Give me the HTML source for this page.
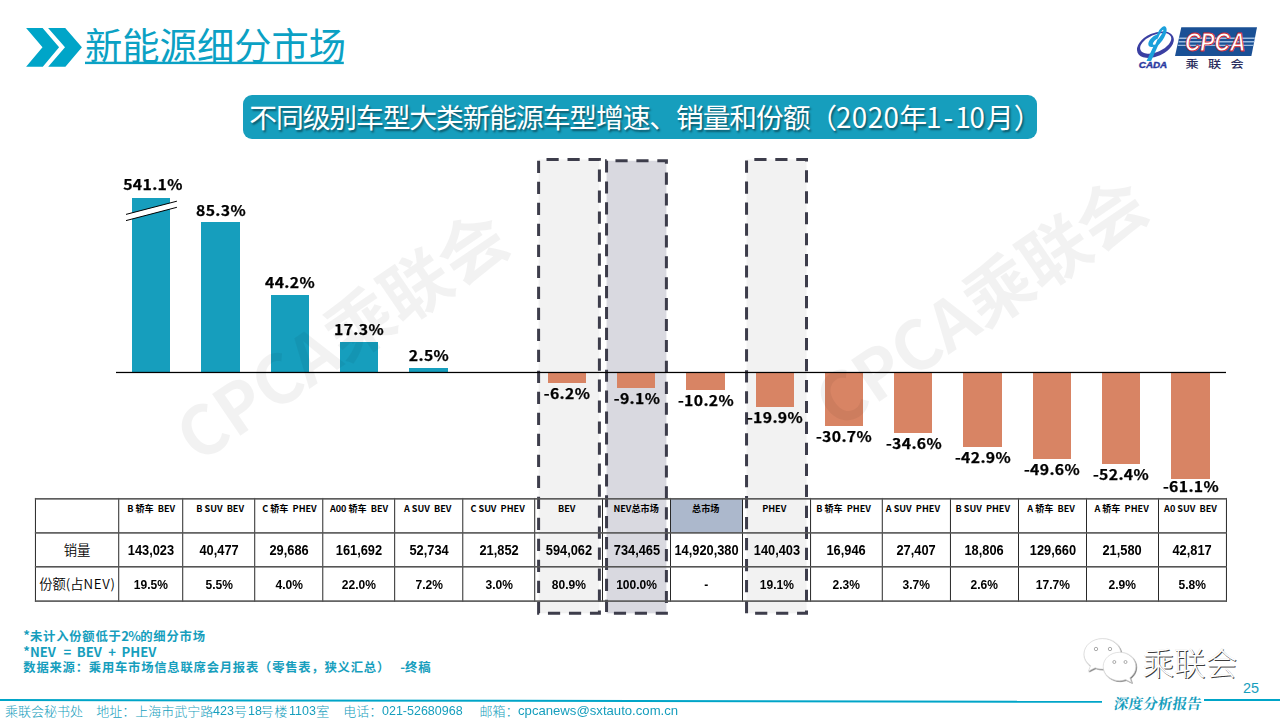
<!DOCTYPE html>
<html lang="zh-CN">
<head>
<meta charset="utf-8">
<title>新能源细分市场</title>
<style>
html,body{margin:0;padding:0;background:#fff;}
body{width:1280px;height:720px;overflow:hidden;position:relative;font-family:"Liberation Sans","Noto Sans CJK SC",sans-serif;}
#slide{position:absolute;left:0;top:0;width:1280px;height:720px;overflow:hidden;background:#fff;}
.abs{position:absolute;}
.yh{font-family:"Noto Sans CJK SC","Liberation Sans",sans-serif;}
.title{left:85px;top:17.3px;font-size:37.3px;line-height:54px;color:#0BA1C4;white-space:nowrap;font-weight:400;}
.sub{left:243px;top:95px;width:793.6px;height:43.7px;border-radius:9px;background:#169EBD;}
.subt{left:249.3px;top:95px;height:43.7px;line-height:43.7px;text-align:left;color:#fff;font-size:27.8px;letter-spacing:-1.13px;white-space:nowrap;text-shadow:1.5px 1.5px 2px rgba(0,0,0,.45);}
.bar{position:absolute;}
.lab{position:absolute;font-weight:700;color:#000;white-space:nowrap;text-align:center;line-height:1;letter-spacing:.3px;-webkit-text-stroke:.25px #000;}
.wm{position:absolute;white-space:nowrap;font-weight:700;color:rgba(0,0,0,.052);line-height:1;transform-origin:50% 50%;}
.cell{position:absolute;text-align:center;white-space:nowrap;color:#000;}
.hd{font-weight:700;white-space:pre;}
.num{font-family:"Liberation Sans",sans-serif;font-weight:700;}
.num span{display:inline-block;transform-origin:50% 50%;}
.rl{font-weight:350;font-size:13.33px;}
.fn{left:23.3px;color:#169EBD;font-weight:700;font-size:12.3px;letter-spacing:.8px;line-height:16px;white-space:pre;}
.la{font-size:13.1px;letter-spacing:0;}
.foot{left:5px;top:702.5px;width:700px;height:16px;color:#169EBD;line-height:16px;white-space:pre;}
.fc{position:absolute;top:0;font-family:"Noto Sans CJK SC",sans-serif;font-weight:300;font-size:13.0px;}
.fl{position:absolute;top:0;font-family:"Liberation Sans",sans-serif;font-size:13.3px;transform-origin:0 50%;}
</style>
</head>
<body>
<div id="slide">
<svg class="abs" style="left:0;top:0" width="1280" height="720" viewBox="0 0 1280 720"><rect x="538.60" y="159.50" width="60.80" height="453.85" fill="#F2F2F2" stroke="#3D3D4B" stroke-width="3" stroke-dasharray="12.2 8.8" stroke-dashoffset="13.1"/><rect x="606.55" y="160.70" width="59.85" height="452.65" fill="#D9D9E0" stroke="#3D3D4B" stroke-width="3" stroke-dasharray="12.15 8.77" stroke-dashoffset="12.0"/><rect x="746.55" y="159.50" width="59.95" height="453.85" fill="#F2F2F2" stroke="#3D3D4B" stroke-width="3" stroke-dasharray="12.2 8.77" stroke-dashoffset="13.2"/></svg>
<svg class="abs" style="left:0;top:0" width="120" height="90" viewBox="0 0 120 90"><polygon points="26.1,27.9 42.6,27.9 59.1,47.35 42.8,66.8 26.1,66.8 42.5,47.35" fill="#00A5C8"/><polygon points="48.1,27.9 65.2,27.9 81.9,47.35 65.4,66.8 48.2,66.8 65.0,47.35" fill="#00A5C8"/></svg>
<div class="abs yh title">新能源细分市场</div>
<svg class="abs" style="left:80px;top:58px" width="270" height="8" viewBox="80 58 270 8"><rect x="85" y="61.7" width="258.8" height="2.4" fill="#0BA1C4"/></svg>
<div class="abs sub"></div>
<div class="abs yh subt">不同级别车型大类新能源车型增速、销量和份额（<span style="letter-spacing:.4px">2020</span>年1<span style="margin:0 3.2px 0 3.2px">-</span>1<span style="margin-right:2.1px">0</span>月<span style="margin-left:1.1px">）</span></div>
<div class="bar" style="left:132.10px;top:198.00px;width:38.30px;height:174.00px;background:#169EBD"></div><div class="lab yh" style="left:102.65px;top:177.08px;width:100px;font-size:14.50px;transform:scaleX(1.09)">541.1%</div>
<div class="bar" style="left:201.38px;top:222.00px;width:38.30px;height:150.00px;background:#169EBD"></div><div class="lab yh" style="left:170.83px;top:202.78px;width:100px;font-size:14.50px;transform:scaleX(1.09)">85.3%</div>
<div class="bar" style="left:270.66px;top:295.00px;width:38.30px;height:77.00px;background:#169EBD"></div><div class="lab yh" style="left:240.11px;top:275.28px;width:100px;font-size:14.50px;transform:scaleX(1.09)">44.2%</div>
<div class="bar" style="left:339.94px;top:342.00px;width:38.30px;height:30.00px;background:#169EBD"></div><div class="lab yh" style="left:309.39px;top:322.28px;width:100px;font-size:14.50px;transform:scaleX(1.09)">17.3%</div>
<div class="bar" style="left:409.22px;top:368.00px;width:38.30px;height:4.00px;background:#169EBD"></div><div class="lab yh" style="left:378.67px;top:348.48px;width:100px;font-size:14.50px;transform:scaleX(1.09)">2.5%</div>
<div class="bar" style="left:547.78px;top:372.00px;width:38.30px;height:11.00px;background:#D88464"></div><div class="lab yh" style="left:517.23px;top:385.78px;width:100px;font-size:14.50px;transform:scaleX(1.09)">-6.2%</div>
<div class="bar" style="left:617.06px;top:372.00px;width:38.30px;height:15.50px;background:#D88464"></div><div class="lab yh" style="left:586.51px;top:391.48px;width:100px;font-size:14.50px;transform:scaleX(1.09)">-9.1%</div>
<div class="bar" style="left:686.34px;top:372.00px;width:38.30px;height:17.50px;background:#D88464"></div><div class="lab yh" style="left:655.79px;top:393.48px;width:100px;font-size:14.50px;transform:scaleX(1.09)">-10.2%</div>
<div class="bar" style="left:755.62px;top:372.00px;width:38.30px;height:34.80px;background:#D88464"></div><div class="lab yh" style="left:725.07px;top:410.28px;width:100px;font-size:14.50px;transform:scaleX(1.09)">-19.9%</div>
<div class="bar" style="left:824.90px;top:372.00px;width:38.30px;height:53.60px;background:#D88464"></div><div class="lab yh" style="left:794.35px;top:428.98px;width:100px;font-size:14.50px;transform:scaleX(1.09)">-30.7%</div>
<div class="bar" style="left:894.18px;top:372.00px;width:38.30px;height:60.50px;background:#D88464"></div><div class="lab yh" style="left:863.63px;top:435.78px;width:100px;font-size:14.50px;transform:scaleX(1.09)">-34.6%</div>
<div class="bar" style="left:963.46px;top:372.00px;width:38.30px;height:74.80px;background:#D88464"></div><div class="lab yh" style="left:932.91px;top:449.78px;width:100px;font-size:14.50px;transform:scaleX(1.09)">-42.9%</div>
<div class="bar" style="left:1032.74px;top:372.00px;width:38.30px;height:86.80px;background:#D88464"></div><div class="lab yh" style="left:1002.19px;top:462.08px;width:100px;font-size:14.50px;transform:scaleX(1.09)">-49.6%</div>
<div class="bar" style="left:1102.02px;top:372.00px;width:38.30px;height:91.80px;background:#D88464"></div><div class="lab yh" style="left:1071.47px;top:467.08px;width:100px;font-size:14.50px;transform:scaleX(1.09)">-52.4%</div>
<div class="bar" style="left:1171.30px;top:372.00px;width:38.30px;height:106.80px;background:#D88464"></div><div class="lab yh" style="left:1140.75px;top:478.98px;width:100px;font-size:14.50px;transform:scaleX(1.09)">-61.1%</div>
<svg class="abs" style="left:110px;top:368px" width="1120" height="8" viewBox="110 368 1120 8"><rect x="116" y="371.85" width="1110" height="1.25" fill="#000"/></svg>
<svg class="abs" style="left:110px;top:190px" width="90" height="40" viewBox="110 190 90 40"><polygon points="126,214.4 176.9,201.2 176.9,207.3 126,220.6" fill="#fff"/><line x1="126" y1="214.4" x2="176.9" y2="201.2" stroke="#000" stroke-width="1"/><line x1="126" y1="220.6" x2="176.9" y2="207.3" stroke="#000" stroke-width="1"/></svg>
<div class="wm yh" style="left:40.0px;top:293.0px;width:600px;height:80px;text-align:center;font-size:68px;line-height:80px;transform:rotate(-34.2deg)">CPCA乘联会</div>
<div class="wm yh" style="left:679.4px;top:258.5px;width:600px;height:80px;text-align:center;font-size:68px;line-height:80px;transform:rotate(-34.2deg)">CPCA乘联会</div>
<div class="abs" style="left:670.50px;top:498.85px;width:72.00px;height:34.05px;background:#ACB8CC"></div>
<svg class="abs" style="left:0;top:490px" width="1280" height="120" viewBox="0 490 1280 120"><rect x="34.95" y="497.95" width="0.9" height="103.95" fill="#111"/><rect x="118.30" y="497.95" width="0.9" height="103.95" fill="#111"/><rect x="182.30" y="497.95" width="0.9" height="103.95" fill="#111"/><rect x="254.30" y="497.95" width="0.9" height="103.95" fill="#111"/><rect x="322.35" y="497.95" width="0.9" height="103.95" fill="#111"/><rect x="394.25" y="497.95" width="0.9" height="103.95" fill="#111"/><rect x="462.35" y="497.95" width="0.9" height="103.95" fill="#111"/><rect x="534.30" y="497.95" width="0.9" height="103.95" fill="#111"/><rect x="602.05" y="497.95" width="0.9" height="103.95" fill="#111"/><rect x="670.05" y="497.95" width="0.9" height="103.95" fill="#111"/><rect x="742.05" y="497.95" width="0.9" height="103.95" fill="#111"/><rect x="810.15" y="497.95" width="0.9" height="103.95" fill="#111"/><rect x="881.80" y="497.95" width="0.9" height="103.95" fill="#111"/><rect x="949.95" y="497.95" width="0.9" height="103.95" fill="#111"/><rect x="1018.05" y="497.95" width="0.9" height="103.95" fill="#111"/><rect x="1086.05" y="497.95" width="0.9" height="103.95" fill="#111"/><rect x="1158.05" y="497.95" width="0.9" height="103.95" fill="#111"/><rect x="1225.95" y="497.95" width="0.9" height="103.95" fill="#111"/><rect x="34.90" y="498.05" width="1192.00" height="1.6" fill="#555"/><rect x="34.90" y="532.10" width="1192.00" height="1.6" fill="#555"/><rect x="34.90" y="566.00" width="1192.00" height="1.6" fill="#555"/><rect x="34.90" y="600.30" width="1192.00" height="1.6" fill="#555"/></svg>
<div class="cell rl yh" style="left:35.40px;top:540.40px;width:83.35px;line-height:20px">销量</div><div class="cell rl yh" style="left:35.40px;top:574.30px;width:83.35px;line-height:20px">份额(占<span style="letter-spacing:.7px">NEV</span>)</div>
<div class="cell hd yh" style="left:101.25px;top:501.35px;width:100px;font-size:9.10px;line-height:14px">B 轿车  BEV</div><div class="cell num" style="left:108.75px;top:540.50px;width:84.00px;font-size:13.80px;line-height:20px"><span style="transform:scaleX(0.930)">143,023</span></div><div class="cell num" style="left:108.75px;top:574.70px;width:84.00px;font-size:13.30px;line-height:20px"><span style="transform:scaleX(0.905)">19.5%</span></div>
<div class="cell hd yh" style="left:170.18px;top:501.35px;width:100px;font-size:9.10px;line-height:14px">B SUV  BEV</div><div class="cell num" style="left:172.75px;top:540.50px;width:92.00px;font-size:13.80px;line-height:20px"><span style="transform:scaleX(0.930)">40,477</span></div><div class="cell num" style="left:172.75px;top:574.70px;width:92.00px;font-size:13.30px;line-height:20px"><span style="transform:scaleX(0.905)">5.5%</span></div>
<div class="cell hd yh" style="left:239.50px;top:501.35px;width:100px;font-size:9.10px;line-height:14px">C 轿车  PHEV</div><div class="cell num" style="left:244.75px;top:540.50px;width:88.05px;font-size:13.80px;line-height:20px"><span style="transform:scaleX(0.930)">29,686</span></div><div class="cell num" style="left:244.75px;top:574.70px;width:88.05px;font-size:13.30px;line-height:20px"><span style="transform:scaleX(0.905)">4.0%</span></div>
<div class="cell hd yh" style="left:309.07px;top:501.35px;width:100px;font-size:9.10px;line-height:14px">A00 轿车  BEV</div><div class="cell num" style="left:312.80px;top:540.50px;width:91.90px;font-size:13.80px;line-height:20px"><span style="transform:scaleX(0.930)">161,692</span></div><div class="cell num" style="left:312.80px;top:574.70px;width:91.90px;font-size:13.30px;line-height:20px"><span style="transform:scaleX(0.905)">22.0%</span></div>
<div class="cell hd yh" style="left:377.70px;top:501.35px;width:100px;font-size:9.10px;line-height:14px">A SUV  BEV</div><div class="cell num" style="left:384.70px;top:540.50px;width:88.10px;font-size:13.80px;line-height:20px"><span style="transform:scaleX(0.930)">52,734</span></div><div class="cell num" style="left:384.70px;top:574.70px;width:88.10px;font-size:13.30px;line-height:20px"><span style="transform:scaleX(0.905)">7.2%</span></div>
<div class="cell hd yh" style="left:447.62px;top:501.35px;width:100px;font-size:9.10px;line-height:14px">C SUV  PHEV</div><div class="cell num" style="left:452.80px;top:540.50px;width:91.95px;font-size:13.80px;line-height:20px"><span style="transform:scaleX(0.930)">21,852</span></div><div class="cell num" style="left:452.80px;top:574.70px;width:91.95px;font-size:13.30px;line-height:20px"><span style="transform:scaleX(0.905)">3.0%</span></div>
<div class="cell hd yh" style="left:516.75px;top:501.35px;width:100px;font-size:9.10px;line-height:14px">BEV</div><div class="cell num" style="left:524.75px;top:540.50px;width:87.75px;font-size:13.80px;line-height:20px"><span style="transform:scaleX(0.930)">594,062</span></div><div class="cell num" style="left:524.75px;top:574.70px;width:87.75px;font-size:13.30px;line-height:20px"><span style="transform:scaleX(0.905)">80.9%</span></div>
<div class="cell hd yh" style="left:586.12px;top:501.35px;width:100px;font-size:9.10px;line-height:14px">NEV总市场</div><div class="cell num" style="left:592.50px;top:540.50px;width:88.00px;font-size:13.80px;line-height:20px"><span style="transform:scaleX(0.930)">734,465</span></div><div class="cell num" style="left:592.50px;top:574.70px;width:88.00px;font-size:13.30px;line-height:20px"><span style="transform:scaleX(0.905)">100.0%</span></div>
<div class="cell hd yh" style="left:655.70px;top:501.35px;width:100px;font-size:9.10px;line-height:14px">总市场</div><div class="cell num" style="left:660.50px;top:540.50px;width:92.00px;font-size:13.80px;line-height:20px"><span style="transform:scaleX(0.930)">14,920,380</span></div><div class="cell num" style="left:660.50px;top:574.70px;width:92.00px;font-size:13.30px;line-height:20px"><span style="transform:scaleX(0.905)">-</span></div>
<div class="cell hd yh" style="left:724.25px;top:501.35px;width:100px;font-size:9.10px;line-height:14px">PHEV</div><div class="cell num" style="left:732.50px;top:540.50px;width:88.10px;font-size:13.80px;line-height:20px"><span style="transform:scaleX(0.930)">140,403</span></div><div class="cell num" style="left:732.50px;top:574.70px;width:88.10px;font-size:13.30px;line-height:20px"><span style="transform:scaleX(0.905)">19.1%</span></div>
<div class="cell hd yh" style="left:793.55px;top:501.35px;width:100px;font-size:9.10px;line-height:14px">B 轿车  PHEV</div><div class="cell num" style="left:800.60px;top:540.50px;width:91.65px;font-size:13.80px;line-height:20px"><span style="transform:scaleX(0.930)">16,946</span></div><div class="cell num" style="left:800.60px;top:574.70px;width:91.65px;font-size:13.30px;line-height:20px"><span style="transform:scaleX(0.905)">2.3%</span></div>
<div class="cell hd yh" style="left:862.92px;top:501.35px;width:100px;font-size:9.10px;line-height:14px">A SUV  PHEV</div><div class="cell num" style="left:872.25px;top:540.50px;width:88.15px;font-size:13.80px;line-height:20px"><span style="transform:scaleX(0.930)">27,407</span></div><div class="cell num" style="left:872.25px;top:574.70px;width:88.15px;font-size:13.30px;line-height:20px"><span style="transform:scaleX(0.905)">3.7%</span></div>
<div class="cell hd yh" style="left:932.80px;top:501.35px;width:100px;font-size:9.10px;line-height:14px">B SUV  PHEV</div><div class="cell num" style="left:940.40px;top:540.50px;width:88.10px;font-size:13.80px;line-height:20px"><span style="transform:scaleX(0.930)">18,806</span></div><div class="cell num" style="left:940.40px;top:574.70px;width:88.10px;font-size:13.30px;line-height:20px"><span style="transform:scaleX(0.905)">2.6%</span></div>
<div class="cell hd yh" style="left:1001.12px;top:501.35px;width:100px;font-size:9.10px;line-height:14px">A 轿车  BEV</div><div class="cell num" style="left:1008.50px;top:540.50px;width:88.00px;font-size:13.80px;line-height:20px"><span style="transform:scaleX(0.930)">129,660</span></div><div class="cell num" style="left:1008.50px;top:574.70px;width:88.00px;font-size:13.30px;line-height:20px"><span style="transform:scaleX(0.905)">17.7%</span></div>
<div class="cell hd yh" style="left:1071.58px;top:501.35px;width:100px;font-size:9.10px;line-height:14px">A 轿车  PHEV</div><div class="cell num" style="left:1076.50px;top:540.50px;width:92.00px;font-size:13.80px;line-height:20px"><span style="transform:scaleX(0.930)">21,580</span></div><div class="cell num" style="left:1076.50px;top:574.70px;width:92.00px;font-size:13.30px;line-height:20px"><span style="transform:scaleX(0.905)">2.9%</span></div>
<div class="cell hd yh" style="left:1140.50px;top:501.35px;width:100px;font-size:9.10px;line-height:14px">A0 SUV  BEV</div><div class="cell num" style="left:1148.50px;top:540.50px;width:87.90px;font-size:13.80px;line-height:20px"><span style="transform:scaleX(0.930)">42,817</span></div><div class="cell num" style="left:1148.50px;top:574.70px;width:87.90px;font-size:13.30px;line-height:20px"><span style="transform:scaleX(0.905)">5.8%</span></div>
<div class="abs yh fn" style="top:628.0px"><span class="la">*</span>未计入份额低于<span class="la" style="letter-spacing:-0.7px;margin:0 0.2px 0 -0.5px">2%</span>的细分市场</div>
<div class="abs yh fn" style="top:643.5px"><span class="la">*NEV<span style="margin-left:7.7px">=</span><span style="margin-left:5.4px">BEV</span><span style="margin-left:6.4px">+</span><span style="margin-left:5.6px">PHEV</span></span></div>
<div class="abs yh fn" style="top:659.0px">数据来源：乘用车市场信息联席会月报表（零售表，狭义汇总）<span class="la" style="margin-left:10.2px">-</span>终稿</div>
<div class="abs" style="left:-2px;top:698.95px;width:1104px;height:2.1px;background:#00A5C8;transform-origin:0 50%;transform:rotate(0.093deg)"></div>
<div class="abs" style="left:1204px;top:698.8px;width:76px;height:2.0px;background:#00A5C8"></div>
<div class="abs foot"><span class="fc" style="left:0.0px">乘联会秘书处</span><span class="fc" style="left:91.2px">地址：上海市武宁路</span><span class="fl" style="left:207.7px;transform:scaleX(0.940)">423</span><span class="fc" style="left:229.0px">号</span><span class="fl" style="left:242.6px;transform:scaleX(0.940)">18</span><span class="fc" style="left:255.5px"><span style="letter-spacing:1px">号楼</span></span><span class="fl" style="left:283.6px;transform:scaleX(0.940)">1103</span><span class="fc" style="left:311.2px">室</span><span class="fc" style="left:338.3px">电话：</span><span class="fl" style="left:377.2px;transform:scaleX(0.940)">021-52680968</span><span class="fc" style="left:474.5px">邮箱：</span><span class="fl" style="left:513.2px;transform:scaleX(0.988)">cpcanews@sxtauto.com.cn</span></div>
<div class="abs" style="left:1111.5px;top:693.6px;width:92px;text-align:center;font-family:'Noto Serif CJK SC','Liberation Serif',serif;font-weight:700;font-size:14.6px;line-height:18px;color:#169EBD;white-space:nowrap;transform:skewX(-9deg)">深度分析报告</div>
<div class="abs" style="left:1236px;top:679px;width:30px;text-align:center;font-size:14.4px;line-height:18px;color:#169EBD">25</div>
<svg class="abs" style="left:1075px;top:630px" width="70" height="60" viewBox="1075 630 70 60"><defs><filter id="ws" x="-10%" y="-10%" width="130%" height="130%"><feDropShadow dx="0.8" dy="0.8" stdDeviation="0.45" flood-color="#444" flood-opacity="0.85"/></filter></defs><g fill="#fff" stroke="#cfcfcf" stroke-width="0.6" filter="url(#ws)"><path d="M1102.5 638.6c-10.2 0-18.5 6.9-18.5 15.4 0 4.7 2.5 8.8 6.5 11.7l-2 5.4 6.6-3.3c2.3.8 4.800 1.300 7.400 1.300 10.200 0 18.500-6.900 18.500-15.100S1112.700 638.600 1102.500 638.600z"/><path d="M1119.5 652.3c-9 0-16.300 6.400-16.300 14.200s7.300 14.200 16.300 14.200c2.200 0 4.300-.4 6.200-1.100l5.800 2.900-1.700-4.700c3.700-2.600 6-6.600 6-11.300C1135.800 658.700 1128.500 652.300 1119.500 652.300z"/></g><g fill="#fff" stroke="#8a8a8a" stroke-width="0.7"><circle cx="1096" cy="649" r="1.7"/><circle cx="1110" cy="649" r="1.7"/><circle cx="1114.300" cy="662" r="1.5"/><circle cx="1125.500" cy="662" r="1.5"/></g></svg>
<div class="abs yh" style="left:1142.5px;top:640px;font-size:31.6px;line-height:42px;font-weight:300;color:#fff;white-space:nowrap;text-shadow:0.9px 0.9px 0.3px #3c3c3c,-0.3px -0.3px 0.5px #d8d8d8">乘联会</div>
<svg class="abs" style="left:1130px;top:20px" width="135" height="55" viewBox="1130 20 135 55">
<polygon points="1181.3,27.3 1257,27.3 1251.4,56 1175,56" fill="#1A5095"/>
<g fill="#9CBBE0"><polygon points="1179.3,37.6 1255,37.6 1254.75,38.9 1179.05,38.9"/><polygon points="1178.6,41.1 1254.3,41.1 1254.05,42.4 1178.35,42.4"/><polygon points="1177.9,44.7 1253.6,44.7 1253.35,46 1177.65,46"/></g>
<text x="1215.2" y="51.4" text-anchor="middle" font-family="Liberation Sans, sans-serif" font-style="italic" font-weight="700" font-size="25.6" textLength="60.5" lengthAdjust="spacingAndGlyphs" fill="#fff" stroke="#D4212B" stroke-width="0.9">CPCA</text>
<g transform="translate(1185.6 67.6) scale(1.22 1)"><text x="0" y="0" font-family="Noto Sans CJK SC, sans-serif" font-weight="500" font-size="10.8" fill="#2A2C5C" textLength="47.6" lengthAdjust="spacing">乘联会</text></g>
<path fill="#3A3FA2" fill-rule="evenodd" transform="rotate(-24 1155.4 44.7)" d="M1135.9 44.7a19.5 11.6 0 1 0 39 0a19.5 11.6 0 1 0 -39 0zM1139.6 43.6a16.6 8.6 0 1 1 33.2 0a16.6 8.6 0 1 1 -33.2 0z"/>
<path d="M1164.8 26.300c2.2 1 2.400 4.200.8 8.300-1.500 3.900-4.600 8.200-7.500 10.800l-7 15.500-4.600 0 6.800-14.200c-3 .9-5-.2-5-2.600 0-3.600 4.500-8.300 8.700-9.600l2.300-4.600C1161 28 1163.300 25.700 1164.800 26.300zM1158 38.200c-2.700 1.500-5.200 4.200-5.200 5.800 0 .9 1 1.100 2.500.4zM1163.300 29.800c-.7-.1-1.800 1.200-2.900 3.300l-3.400 7.200c2.300-2.200 4.600-5.400 5.800-8.200C1163.300 30.700 1163.500 29.900 1163.300 29.800z" fill="#1BA0DB"/>
<text x="1138.8" y="68.3" font-family="Liberation Sans, sans-serif" font-weight="700" font-style="italic" font-size="8.2" textLength="28.4" lengthAdjust="spacingAndGlyphs" fill="#2B39A0" stroke="#2B39A0" stroke-width="0.35">CADA</text>
</svg>
</div>
</body>
</html>
